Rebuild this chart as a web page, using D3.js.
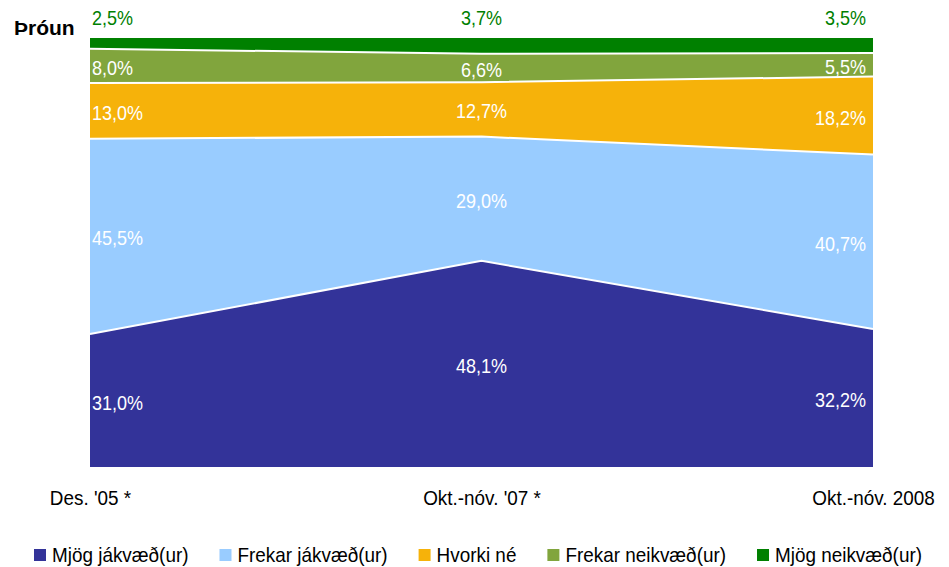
<!DOCTYPE html>
<html>
<head>
<meta charset="utf-8">
<script src="https://cdn.jsdelivr.net/npm/d3@7"></script>
<style>
  body { margin: 0; background: #fff; }
  text { font-family: "Liberation Sans", Arial, sans-serif; }
</style>
</head>
<body>
<div id="chart"></div>
<script>
// periods on the x axis
var periods = ["Des. '05 *", "Okt.-nóv. '07 *", "Okt.-nóv. 2008"];

// series names (bottom to top) and their colours
var seriesNames = ["Mjög jákvæð(ur)", "Frekar jákvæð(ur)", "Hvorki né", "Frekar neikvæð(ur)", "Mjög neikvæð(ur)"];
var seriesColors = ["#333399", "#99ccff", "#f6b20a", "#81a53d", "#008000"];

// percentages per series, one value per period
var mjogJakv = [31.0, 48.1, 32.2];
var frekarJakv = [45.5, 29.0, 40.7];
var hvorkiNe = [13.0, 12.7, 18.2];
var frekarNeikv = [8.0, 6.6, 5.5];
var mjogNeikv = [2.5, 3.7, 3.5];

var seriesValues = [mjogJakv, frekarJakv, hvorkiNe, frekarNeikv, mjogNeikv];

var W = 949, H = 567;
var margin = {top: 38, right: 76, bottom: 100, left: 90};
var squeeze = 0.9; // the original font is a narrow one

var svg = d3.select("#chart").append("svg")
  .attr("width", W)
  .attr("height", H);

// build rows for d3.stack
var rows = periods.map(function(p, j) {
  var r = {period: p};
  seriesNames.forEach(function(s, i) { r[s] = seriesValues[i][j]; });
  return r;
});

var stack = d3.stack().keys(seriesNames).offset(d3.stackOffsetExpand);
var layers = stack(rows);

var x = d3.scalePoint().domain(periods).range([margin.left, W - margin.right]);
var y = d3.scaleLinear().domain([0, 1]).range([H - margin.bottom, margin.top]);

var area = d3.area()
  .x(function(d) { return x(d.data.period); })
  .y0(function(d) { return y(d[0]); })
  .y1(function(d) { return y(d[1]); });

svg.selectAll("path.layer")
  .data(layers)
  .enter().append("path")
  .attr("class", "layer")
  .attr("d", area)
  .attr("fill", function(d, i) { return seriesColors[i]; });

// white separator lines between layers
var line = d3.line()
  .x(function(d) { return x(d.data.period); })
  .y(function(d) { return y(d[1]); });

svg.selectAll("path.sep")
  .data(layers.slice(0, layers.length - 1))
  .enter().append("path")
  .attr("class", "sep")
  .attr("d", line)
  .attr("fill", "none")
  .attr("stroke", "#fff")
  .attr("stroke-width", 2);

// narrow text helper
function addText(parent, px, py, str, size, anchor, color) {
  return parent.append("text")
    .attr("transform", "translate(" + px + "," + py + ") scale(" + squeeze + ",1)")
    .attr("dy", "0.35em")
    .attr("text-anchor", anchor)
    .attr("font-size", size)
    .attr("fill", color)
    .text(str);
}

// value labels
function fmt(v) { return v.toFixed(1).replace(".", ",") + "%"; }
var anchors = ["start", "middle", "end"];
var offsets = [2, 0, -7];

layers.forEach(function(layer, i) {
  var top = i === layers.length - 1;
  layer.forEach(function(d, j) {
    addText(svg, x(d.data.period) + offsets[j],
      top ? 18 : y((d[0] + d[1]) / 2) + 2,
      fmt(seriesValues[i][j]), 20, anchors[j], top ? "#008000" : "#fff");
  });
});

// x axis labels
svg.append("g")
  .attr("transform", "translate(0," + (H - margin.bottom) + ")")
  .call(d3.axisBottom(x).tickSize(0).tickPadding(23))
  .call(function(g) {
    g.select(".domain").remove();
    g.selectAll("text")
      .attr("font-size", 21)
      .attr("fill", "#000")
      .attr("transform", "scale(" + squeeze + ",1)")
      .style("font-family", "'Liberation Sans', Arial, sans-serif");
  });

// title
svg.append("text")
  .attr("x", 14)
  .attr("y", 35)
  .attr("font-size", 21)
  .attr("font-weight", "bold")
  .attr("fill", "#000")
  .text("Þróun");

// legend
var legend = svg.append("g").attr("transform", "translate(0,555)");
var lx = 34;
seriesNames.forEach(function(name, i) {
  legend.append("rect")
    .attr("x", lx)
    .attr("y", -6)
    .attr("width", 12)
    .attr("height", 12)
    .attr("fill", seriesColors[i]);
  var t = addText(legend, lx + 18, 0, name, 21, "start", "#000");
  lx += 18 + t.node().getComputedTextLength() * squeeze + 31;
});
</script>
</body>
</html>
